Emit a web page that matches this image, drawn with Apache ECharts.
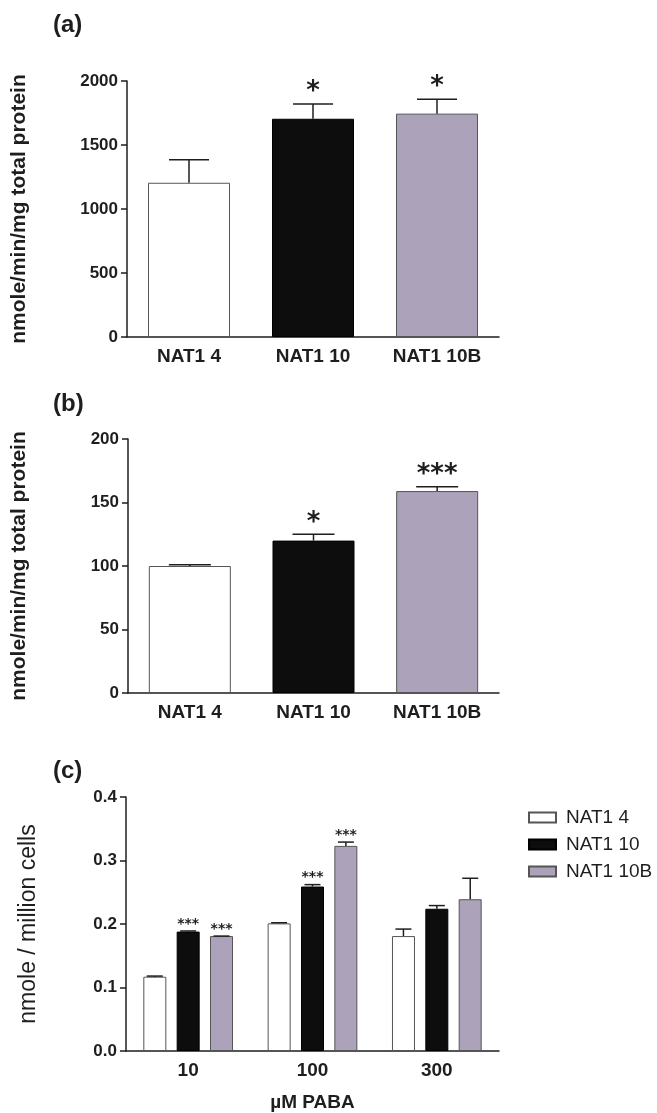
<!DOCTYPE html>
<html>
<head>
<meta charset="utf-8">
<script src="https://cdn.jsdelivr.net/npm/echarts@6/dist/echarts.min.js"></script>
<style>
  html, body { margin: 0; padding: 0; background: #fff; }
  #chart { width: 657px; height: 1113px; }
</style>
</head>
<body>
<div id="chart"></div>
<script>
// panel (a) and (b): enzyme activity per variant
const variants = ["NAT1 4", "NAT1 10", "NAT1 10B"];
const aMean = [1205, 1705, 1745];
const aErr = [180, 115, 112];
const aStars = ["", "*", "*"];
const bMean = [100, 120, 159];
const bErr = [1, 5, 3.5];
const bStars = ["", "*", "***"];

// panel (c): PABA dose response
const doses = ["10", "100", "300"];
const c4 = [0.117, 0.201, 0.181];
const c4Err = [0.001, 0.001, 0.011];
const c10 = [0.188, 0.259, 0.224];
const c10Err = [0.001, 0.003, 0.005];
const c10B = [0.181, 0.323, 0.239];
const c10BErr = [0, 0.006, 0.033];
const c4Stars = ["", "", ""];
const c10Stars = ["***", "***", ""];
const c10BStars = ["***", "***", ""];

const fills = ["#ffffff", "#0d0d0d", "#aca3bb"];
const borders = ["#555555", "#000000", "#555555"];
const ink = "#1e1e1e";
const font = "Liberation Sans, Arial, sans-serif";

const chart = echarts.init(document.getElementById("chart"));

const axisLine = { lineStyle: { color: ink, width: 1.5 } };

const yAxisFor = (gi, max, step, name, nameGap, bold, nameSize, fmt) => ({
  type: "value",
  gridIndex: gi,
  min: 0,
  max: max,
  interval: step,
  name: name,
  nameLocation: "middle",
  nameRotate: 90,
  nameGap: nameGap,
  nameTextStyle: { fontFamily: font, fontSize: nameSize, fontWeight: bold ? "bold" : "normal", color: ink },
  axisLine: { show: true, ...axisLine },
  axisTick: { show: true, length: 6, lineStyle: { color: ink, width: 1.5 } },
  axisLabel: { fontFamily: font, fontSize: 17, fontWeight: "bold", color: ink, margin: 9, formatter: fmt },
  splitLine: { show: false },
});

const xAxisFor = (gi, cats) => ({
  type: "category",
  gridIndex: gi,
  data: cats,
  axisLine: axisLine,
  axisTick: { alignWithLabel: true, length: 5, lineStyle: { color: ink, width: 1.5 } },
  axisLabel: { fontFamily: font, fontSize: 19, fontWeight: "bold", color: ink, margin: 10 },
});

// error bars (upward only) plus significance stars
const errorSeries = (gi, means, errs, stars, offset, cap, starSize, starGap) => ({
  type: "custom",
  xAxisIndex: gi,
  yAxisIndex: gi,
  z: 5,
  silent: true,
  data: means.map((m, i) => [i, m, errs[i]]),
  renderItem: (params, api) => {
    const base = api.coord([api.value(0), api.value(1)]);
    const top = api.coord([api.value(0), api.value(1) + api.value(2)]);
    const x = base[0] + offset;
    const line = { stroke: ink, lineWidth: 1.5 };
    const children = [
      { type: "line", shape: { x1: x, y1: base[1], x2: x, y2: top[1] }, style: line },
      { type: "line", shape: { x1: x - cap, y1: top[1], x2: x + cap, y2: top[1] }, style: line },
    ];
    const s = stars[params.dataIndex];
    if (s) {
      children.push({
        type: "text",
        style: {
          text: s, x: x, y: top[1] - starGap,
          align: "center", verticalAlign: "middle",
          fontFamily: "DejaVu Sans", fontWeight: "bold", fontSize: starSize, fill: ink,
        },
      });
    }
    return { type: "group", children: children };
  },
});

const singleBars = (gi, means) => ({
  type: "bar",
  xAxisIndex: gi,
  yAxisIndex: gi,
  barWidth: 82,
  data: means.map((v, i) => ({
    value: v,
    itemStyle: { color: fills[i], borderColor: borders[i], borderWidth: 1 },
  })),
});

const groupBars = (name, vals, k) => ({
  type: "bar",
  name: name,
  xAxisIndex: 2,
  yAxisIndex: 2,
  barWidth: 23,
  barGap: "45%",
  itemStyle: { color: fills[k], borderColor: borders[k], borderWidth: 1 },
  data: vals,
});

const panelTitle = (text, top) => ({
  text: text, left: 53, top: top, padding: 0,
  textStyle: { fontFamily: font, fontSize: 24, fontWeight: "bold", color: ink },
});

chart.setOption({
  animation: false,
  backgroundColor: "#ffffff",
  title: [panelTitle("(a)", 13), panelTitle("(b)", 392), panelTitle("(c)", 759)],
  grid: [
    { left: 127, top: 81, width: 372, height: 256 },
    { left: 128, top: 439, width: 371, height: 254 },
    { left: 126, top: 797, width: 373, height: 254 },
  ],
  xAxis: [
    xAxisFor(0, variants),
    xAxisFor(1, variants),
    {
      ...xAxisFor(2, doses),
      name: "\u00b5M PABA",
      nameLocation: "middle",
      nameGap: 42,
      nameTextStyle: { fontFamily: font, fontSize: 19, fontWeight: "bold", color: ink },
    },
  ],
  yAxis: [
    yAxisFor(0, 2000, 500, "nmole/min/mg total protein", 97, true, 21, (v) => String(v)),
    yAxisFor(1, 200, 50, "nmole/min/mg total protein", 98, true, 21, (v) => String(v)),
    yAxisFor(2, 0.4, 0.1, "nmole / million cells", 86, false, 23, (v) => v.toFixed(1)),
  ],
  legend: {
    data: ["NAT1 4", "NAT1 10", "NAT1 10B"],
    orient: "vertical",
    left: 523,
    top: 803,
    itemWidth: 27,
    itemHeight: 10,
    itemGap: 8,
    icon: "rect",
    textStyle: { fontFamily: font, fontSize: 19, color: ink, padding: [0, 0, 0, 5] },
  },
  series: [
    singleBars(0, aMean),
    errorSeries(0, aMean, aErr, aStars, 0, 20, 26, 12),
    singleBars(1, bMean),
    errorSeries(1, bMean, bErr, bStars, 0, 21, 26, 11),
    groupBars("NAT1 4", c4, 0),
    groupBars("NAT1 10", c10, 1),
    groupBars("NAT1 10B", c10B, 2),
    errorSeries(2, c4, c4Err, c4Stars, -33.4, 8, 14, 7),
    errorSeries(2, c10, c10Err, c10Stars, 0, 8, 14, 7),
    errorSeries(2, c10B, c10BErr, c10BStars, 33.4, 8, 14, 7),
  ],
});
</script>
</body>
</html>
